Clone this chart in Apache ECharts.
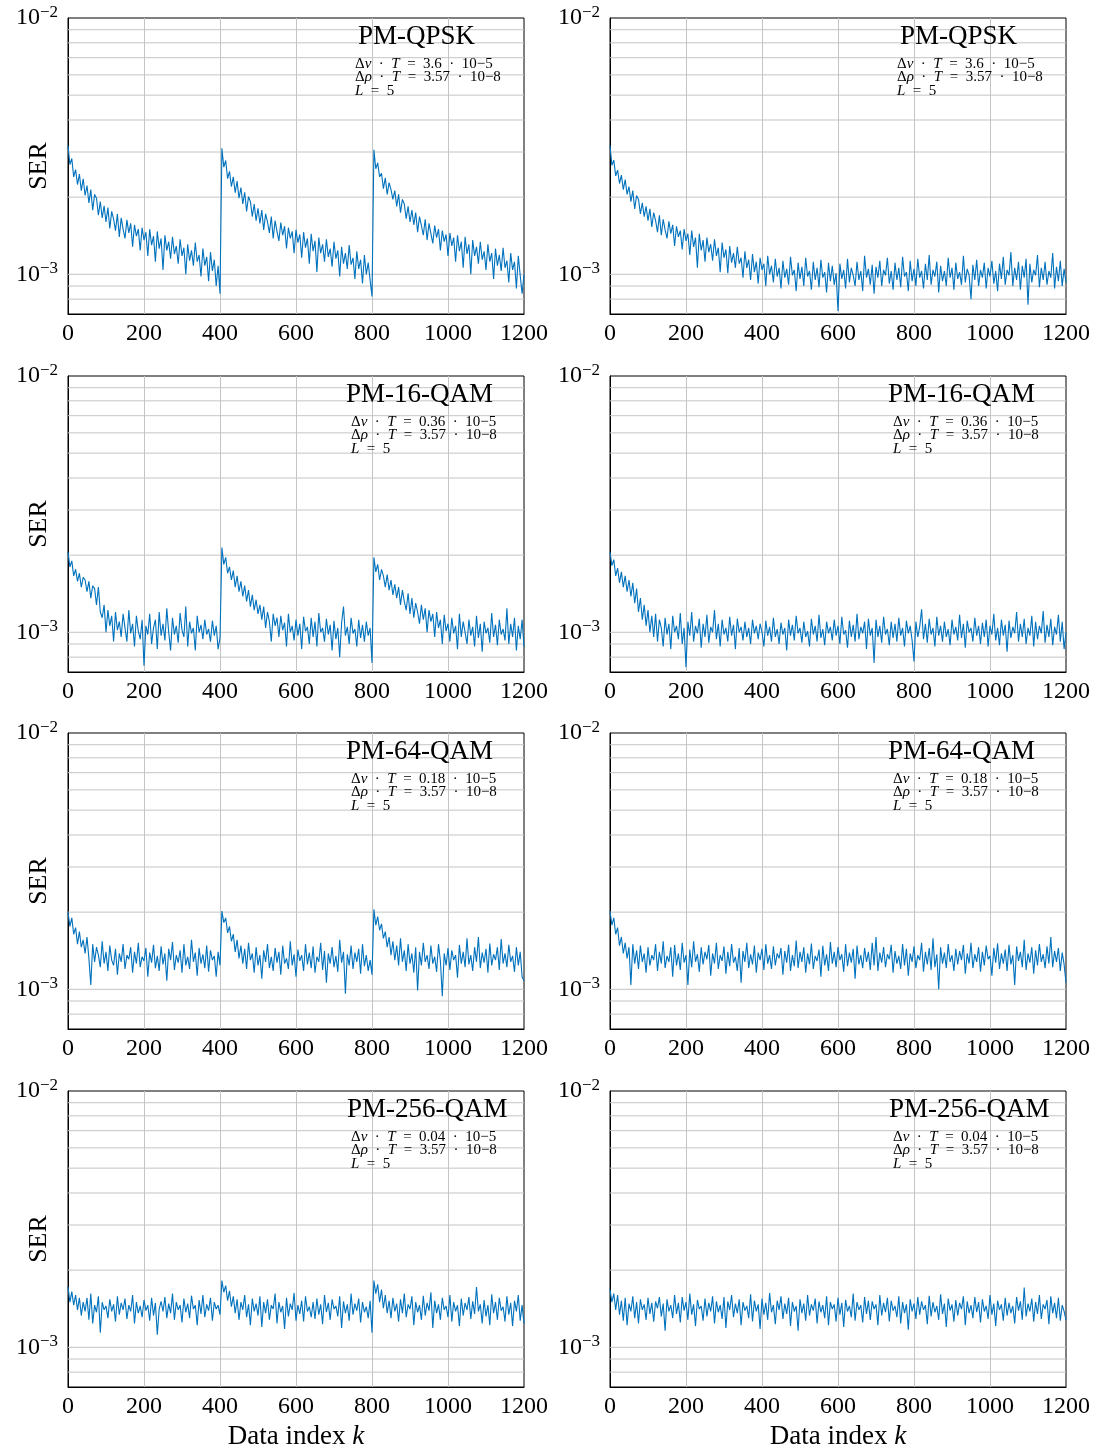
<!DOCTYPE html>
<html>
<head>
<meta charset="utf-8">
<script src="https://cdn.jsdelivr.net/npm/echarts@6/dist/echarts.min.js"></script>
<style>
  html, body { margin: 0; padding: 0; background: #fff; }
  #chart { width: 1099px; height: 1450px; }
</style>
</head>
<body>
<div id="chart"></div>
<script>
// SER per data index, in units of 1e-5 (100 = 1e-3).
// One value every STEP indices, k = 0 .. 1200.
const STEP = 5;

// left column: training restarts at k = 400 and k = 800
const qpskBlock = [
  318, 268, 283, 240, 256, 224, 246, 212, 236, 203,
  222, 190, 214, 178, 205, 198, 170, 192, 166, 185,
  160, 182, 151, 176, 164, 148, 172, 140, 166, 150,
  138, 163, 145, 158, 128, 156, 141, 150, 124, 152,
  136, 146, 118, 150, 130, 141, 112, 147, 126, 138,
  104, 142, 124, 134, 115, 140, 120, 129, 110, 137,
  118, 127, 100, 131, 113, 124, 108, 133, 112, 119,
  98, 126, 108, 117, 94, 122, 103, 114, 90, 108,
  84,
  310, 262, 278, 236, 252, 220, 240, 208, 231, 198,
  218, 188, 209, 176, 201, 192, 168, 188, 162, 181,
  158, 178, 149, 172, 160, 145, 168, 138, 162, 147,
  135, 159, 142, 154, 126, 152, 138, 147, 121, 149,
  133, 143, 116, 146, 127, 138, 110, 144, 123, 135,
  102, 139, 121, 131, 112, 137, 117, 126, 107, 134,
  115, 124, 98, 128, 110, 121, 105, 130, 109, 116,
  96, 123, 105, 114, 92, 119, 100, 111, 95,
  82,
  306, 258, 272, 240, 248, 216, 238, 205, 228, 214,
  196, 212, 184, 205, 174, 196, 188, 165, 184, 160,
  178, 156, 174, 146, 168, 155, 142, 164, 136, 158,
  144, 132, 155, 139, 150, 124, 148, 134, 143, 118,
  145, 129, 139, 112, 142, 123, 134, 106, 140, 120,
  131, 100, 136, 118, 128, 110, 134, 114, 123, 104,
  131, 112, 121, 96, 126, 108, 119, 103, 127, 106,
  113, 93, 121, 104, 112, 88, 118, 99, 84, 100
];
const qam16Block = [
  206, 180, 190, 166, 176, 158, 170, 150, 164, 160,
  144, 158, 136, 152, 148, 128, 150, 120, 114, 128,
  100, 122, 106, 116, 92, 120, 102, 110, 96, 118,
  104, 92, 122, 99, 108, 88, 116, 101, 94, 112,
  74, 106, 98, 118, 90, 104, 112, 86, 120, 97,
  108, 93, 124, 100, 85, 114, 98, 106, 91, 119,
  102, 96, 126, 88, 110, 99, 104, 85, 116, 100,
  107, 94, 112, 98, 103, 92, 111, 97, 106, 86,
  95,
  214, 184, 196, 170, 180, 160, 174, 150, 166, 144,
  158, 138, 152, 132, 146, 126, 140, 122, 134, 118,
  128, 112, 126, 104, 120, 110, 92, 118, 106, 114,
  96, 116, 102, 109, 88, 118, 100, 106, 93, 112,
  97, 108, 86, 115, 101, 105, 90, 114, 96, 110,
  88, 119, 100, 104, 92, 113, 98, 107, 85, 111,
  94, 104, 80, 109, 126, 97, 105, 90, 114, 99,
  103, 88, 112, 95, 107, 92, 110, 97, 104,
  76,
  196, 172, 184, 160, 176, 166, 150, 168, 146, 160,
  140, 154, 136, 150, 128, 146, 132, 122, 142, 118,
  136, 114, 130, 120, 108, 128, 112, 124, 100, 122,
  110, 118, 96, 120, 104, 112, 90, 117, 101, 108,
  92, 114, 99, 106, 86, 118, 96, 110, 100, 90,
  112, 97, 105, 88, 116, 95, 108, 84, 110, 99,
  104, 91, 119, 96, 107, 89, 112, 98, 103, 93,
  124, 90, 108, 96, 114, 85, 106, 94, 112, 88
];
const qam64Block = [
  200, 176, 190, 164, 174, 150, 168, 146, 156, 138,
  160, 132, 104, 150, 128, 146, 136, 122, 154, 126,
  140, 118, 148, 130, 124, 144, 114, 138, 128, 150,
  120, 136, 131, 146, 116, 140, 126, 152, 122, 134,
  129, 145, 112, 139, 127, 149, 121, 135, 118, 147,
  125, 138, 108, 144, 130, 153, 119, 136, 127, 142,
  116, 150, 124, 134, 120, 156, 128, 139, 113, 145,
  126, 137, 121, 148, 117, 142, 130, 135, 112, 140,
  124,
  202, 182, 190, 166, 176, 154, 164, 140, 156, 132,
  148, 126, 144, 120, 152, 130, 138, 116, 146, 124,
  136, 110, 142, 128, 150, 121, 134, 118, 145, 127,
  140, 114, 148, 126, 132, 120, 154, 124, 137, 112,
  143, 129, 136, 118, 150, 125, 139, 121, 147, 116,
  134, 128, 152, 119, 141, 106, 138, 126, 146, 122,
  135, 117, 156, 127, 140, 96, 137, 124, 148, 120,
  139, 128, 144, 115, 150, 123, 136, 118, 130,
  114,
  205, 178, 192, 170, 180, 158, 168, 146, 160, 136,
  154, 130, 148, 124, 158, 128, 142, 118, 150, 126,
  138, 116, 146, 99, 140, 124, 152, 128, 136, 120,
  148, 126, 134, 117, 150, 129, 94, 138, 124, 145,
  119, 142, 130, 136, 111, 149, 126, 140, 122, 158,
  125, 136, 118, 146, 128, 160, 121, 139, 127, 144,
  116, 151, 124, 137, 130, 146, 119, 157, 126, 138,
  122, 149, 128, 135, 117, 146, 124, 140, 112, 108
];
const qam256Block = [
  172, 150, 165, 146, 160, 140, 156, 133, 150, 138,
  156, 128, 162, 124, 146, 137, 158, 114, 150, 140,
  145, 130, 154, 138, 147, 126, 158, 134, 149, 140,
  155, 129, 146, 138, 160, 124, 150, 136, 145, 131,
  153, 139, 146, 127, 156, 133, 149, 112, 141, 151,
  138, 157, 130, 148, 136, 162, 128, 150, 140, 146,
  125, 155, 137, 148, 130, 159, 141, 146, 122, 153,
  135, 160, 131, 147, 139, 156, 127, 150, 141, 146,
  134,
  182, 164, 174, 152, 166, 144, 158, 136, 154, 128,
  150, 140, 160, 131, 147, 122, 155, 138, 148, 133,
  158, 120, 150, 136, 154, 128, 146, 141, 162, 124,
  150, 137, 145, 118, 156, 132, 148, 140, 163, 127,
  146, 135, 152, 126, 158, 138, 144, 131, 150, 129,
  155, 134, 147, 123, 160, 137, 149, 128, 154, 141,
  145, 132, 158, 119, 151, 136, 147, 127, 162, 134,
  148, 139, 155, 125, 150, 137, 144, 130, 152,
  114,
  182, 162, 176, 150, 168, 142, 160, 136, 152, 130,
  156, 138, 148, 126, 154, 136, 162, 131, 147, 141,
  158, 122, 150, 137, 146, 128, 159, 133, 149, 139,
  164, 119, 152, 136, 147, 128, 156, 140, 145, 131,
  160, 126, 150, 138, 146, 121, 155, 133, 149, 140,
  157, 129, 151, 135, 172, 138, 147, 124, 153, 132,
  146, 122, 161, 136, 150, 128, 156, 139, 144, 126,
  158, 134, 149, 121, 152, 138, 160, 127, 146, 124
];

// right column: one continuous run
const qpskCont = [
  318, 266, 279, 242, 255, 226, 244, 214, 234, 205,
  220, 192, 212, 180, 203, 196, 172, 190, 168, 184,
  162, 180, 153, 174, 162, 146, 170, 142, 164, 149,
  138, 161, 144, 156, 129, 154, 140, 148, 125, 150,
  135, 144, 119, 148, 128, 139, 106, 144, 124, 136,
  112, 139, 122, 131, 113, 137, 118, 127, 102, 133,
  116, 125, 101, 129, 111, 121, 106, 128, 110, 116,
  97, 123, 106, 114, 95, 120, 102, 112, 92, 116,
  104, 110, 90, 118, 100, 108, 93, 115, 98, 106,
  88, 113, 97, 105, 91, 117, 99, 104, 86, 111,
  96, 107, 90, 116, 98, 103, 87, 112, 95, 106,
  89, 114, 97, 102, 85, 111, 94, 108, 91, 101,
  72, 110, 96, 104, 88, 115, 93, 106, 99, 90,
  112, 95, 103, 86, 118, 97, 105, 91, 109, 84,
  107, 97, 113, 90, 104, 99, 116, 92, 103, 87,
  111, 95, 106, 89, 117, 98, 102, 86, 113, 94,
  105, 90, 115, 97, 103, 88, 110, 95, 119, 91,
  104, 98, 112, 85, 108, 94, 103, 90, 116, 97,
  106, 87, 111, 96, 102, 91, 118, 93, 105, 99,
  80, 109, 95, 114, 90, 104, 97, 111, 88, 106,
  98, 113, 92, 103, 86, 110, 96, 117, 91, 104,
  99, 122, 90, 106, 95, 112, 87, 108, 97, 115,
  76, 110, 93, 104, 99, 119, 89, 106, 95, 112,
  91, 103, 97, 121, 88, 107, 94, 113, 90, 105,
  93
];
const qam16Cont = [
  206, 182, 192, 166, 178, 156, 172, 150, 166, 144,
  160, 138, 156, 130, 148, 120, 136, 112, 128, 106,
  122, 100, 116, 96, 118, 92, 112, 104, 88, 114,
  98, 108, 86, 116, 100, 106, 94, 119, 90, 104,
  73, 110, 97, 120, 92, 106, 99, 113, 87, 108,
  96, 117, 91, 105, 100, 122, 94, 108, 88, 112,
  98, 104, 92, 115, 97, 107, 86, 113, 100, 105,
  93, 110, 96, 104, 90, 112, 99, 106, 94, 108,
  100, 88, 111, 97, 105, 92, 114, 96, 103, 90,
  109, 98, 104, 85, 112, 97, 107, 93, 116, 99,
  104, 91, 110, 96, 101, 88, 113, 98, 106, 92,
  117, 95, 103, 89, 110, 99, 105, 93, 112, 97,
  106, 90, 115, 98, 102, 87, 111, 96, 107, 92,
  118, 94, 105, 99, 110, 86, 113, 97, 104, 76,
  112, 96, 106, 91, 115, 98, 103, 89, 110, 95,
  108, 92, 114, 97, 104, 88, 111, 99, 106, 93,
  77, 110, 96, 105, 123, 94, 108, 91, 113, 98,
  104, 88, 115, 97, 106, 92, 110, 96, 103, 89,
  112, 98, 105, 93, 117, 95, 108, 87, 111, 100,
  104, 92, 114, 97, 106, 90, 109, 96, 112, 88,
  106, 98, 118, 93, 104, 89, 112, 97, 107, 84,
  111, 95, 105, 99, 120, 92, 108, 96, 113, 90,
  104, 97, 116, 88, 110, 94, 106, 99, 121, 91,
  107, 96, 113, 89, 105, 98, 117, 92, 110, 86,
  100
];
const qam64Cont = [
  202, 178, 190, 164, 174, 148, 160, 138, 152, 132,
  146, 104, 150, 126, 142, 120, 148, 128, 138, 116,
  146, 124, 136, 130, 150, 118, 140, 126, 154, 121,
  135, 128, 146, 112, 149, 124, 138, 119, 152, 127,
  136, 104, 143, 122, 154, 128, 137, 117, 146, 125,
  140, 131, 149, 113, 138, 126, 152, 120, 136, 129,
  147, 115, 140, 123, 150, 127, 134, 118, 145, 106,
  141, 128, 152, 121, 137, 125, 148, 116, 139, 130,
  144, 119, 150, 126, 136, 120, 147, 124, 138, 132,
  145, 114, 141, 127, 149, 118, 136, 123, 155, 121,
  140, 128, 146, 116, 138, 125, 151, 120, 135, 129,
  143, 112, 148, 124, 137, 118, 153, 126, 140, 122,
  146, 130, 137, 117, 150, 123, 139, 127, 144, 110,
  148, 125, 136, 121, 145, 128, 140, 119, 152, 124,
  160, 118, 139, 127, 146, 122, 137, 131, 149, 116,
  141, 126, 135, 120, 150, 124, 144, 113, 138, 128,
  147, 121, 136, 130, 152, 117, 140, 125, 145, 119,
  158, 122, 137, 100, 146, 126, 139, 121, 150, 128,
  136, 118, 144, 125, 141, 130, 149, 115, 138, 126,
  152, 121, 137, 128, 146, 117, 140, 124, 148, 131,
  135, 113, 145, 127, 151, 120, 138, 126, 143, 118,
  149, 125, 136, 104, 147, 129, 140, 122, 156, 119,
  138, 127, 146, 115, 142, 124, 150, 128, 137, 121,
  147, 126, 160, 122, 141, 128, 145, 118, 139, 125,
  106
];
const qam256Cont = [
  168, 150, 162, 140, 160, 134, 152, 127, 156, 122,
  148, 138, 158, 130, 150, 124, 154, 140, 147, 128,
  156, 135, 149, 126, 151, 142, 157, 132, 148, 116,
  154, 138, 146, 130, 160, 135, 149, 125, 157, 139,
  150, 128, 162, 134, 147, 121, 153, 141, 145, 127,
  155, 132, 149, 138, 158, 124, 151, 137, 146, 129,
  157, 119, 151, 140, 160, 131, 148, 136, 154, 122,
  150, 139, 145, 130, 161, 126, 152, 138, 147, 118,
  155, 134, 149, 128, 163, 137, 146, 123, 152, 140,
  158, 129, 148, 135, 156, 121, 150, 138, 145, 116,
  154, 136, 148, 127, 160, 133, 147, 139, 155, 124,
  151, 137, 146, 130, 158, 122, 150, 141, 147, 126,
  156, 134, 149, 120, 153, 138, 145, 131, 162, 127,
  150, 140, 146, 125, 157, 135, 152, 128, 151, 141,
  147, 122, 160, 133, 149, 137, 156, 126, 152, 139,
  145, 131, 158, 124, 150, 136, 147, 117, 154, 138,
  148, 129, 157, 134, 151, 140, 146, 123, 159, 132,
  150, 137, 145, 128, 161, 135, 148, 120, 155, 139,
  147, 126, 153, 133, 149, 141, 158, 122, 151, 136,
  146, 130, 157, 137, 150, 125, 154, 138, 145, 129,
  160, 134, 148, 121, 152, 140, 147, 127, 156, 133,
  149, 136, 145, 124, 157, 139, 151, 128, 171, 132,
  148, 138, 155, 126, 150, 135, 160, 129, 147, 141,
  153, 123, 158, 136, 149, 130, 156, 127, 146, 138,
  128
];

const panelValues = [qpskBlock, qpskCont, qam16Block, qam16Cont,
                     qam64Block, qam64Cont, qam256Block, qam256Cont];
const formatNames = ['PM-QPSK', 'PM-16-QAM', 'PM-64-QAM', 'PM-256-QAM'];
const dnuT = ['3.6', '0.36', '0.18', '0.04'];
const drhoT = '3.57';
const memoryL = 5;

const xRange = [0, 1200];
const yLabelValues = [0.001, 0.01];
const yGridValues = [0.0008, 0.0009, 0.001, 0.002, 0.003, 0.004, 0.005,
                     0.006, 0.007, 0.008, 0.009];

const FONT = '"Liberation Serif", "Times New Roman", serif';
const BLUE = '#0072bd';
const GRAY = '#c4c4c4';
const SP = '\u2002'; // wider gap, like math spacing
const colLeft = [68, 610];
const rowTop = [18, 376, 733, 1091];
const W = 456, H = 296;
const titleDx = [290, 278, 278, 279];
const noteDx = [287, 283, 283, 283];

const chart = echarts.init(document.getElementById('chart'));

const grids = [], xAxes = [], yAxes = [], series = [], titles = [];

// one polyline per grid value, broken by '-' between them
const hGridData = [];
yGridValues.forEach(v => {
  hGridData.push([xRange[0], v], [xRange[1], v], [xRange[1], '-']);
});

panelValues.forEach((vals, idx) => {
  const row = Math.floor(idx / 2), col = idx % 2;
  const left = colLeft[col], top = rowTop[row];

  grids.push({ left: left, top: top, width: W, height: H,
    containLabel: false, outerBoundsMode: 'none',
    show: true, borderColor: '#000', borderWidth: 1, backgroundColor: 'transparent' });

  xAxes.push({
    gridIndex: idx, type: 'value', min: xRange[0], max: xRange[1], interval: 200,
    axisLine: { show: true, lineStyle: { color: '#000', width: 1 } },
    axisTick: { show: false },
    axisLabel: { fontFamily: FONT, fontSize: 24, color: '#000', margin: 8,
                 showMinLabel: true, showMaxLabel: true,
                 formatter: v => String(v) },
    splitLine: { show: true, showMinLine: false, showMaxLine: false,
                 lineStyle: { color: GRAY, width: 1 } },
    name: row === 3 ? 'Data index {i|k}' : '',
    nameLocation: 'middle', nameGap: 36, nameMoveOverlap: false,
    nameTextStyle: { fontFamily: FONT, fontSize: 27, color: '#000',
                     rich: { i: { fontFamily: FONT, fontSize: 27, fontStyle: 'italic', color: '#000' } } }
  });

  yAxes.push({
    gridIndex: idx, type: 'log', logBase: 10, min: 0.0007, max: 0.01,
    axisLine: { show: true, lineStyle: { color: '#000', width: 1 } },
    axisTick: { show: false },
    splitLine: { show: false },
    axisLabel: {
      customValues: yLabelValues, margin: 10,
      fontFamily: FONT, fontSize: 24, color: '#000',
      formatter: v => '10{s|\u2212' + Math.round(-Math.log10(v)) + '}',
      rich: { s: { fontFamily: FONT, fontSize: 17, color: '#000', padding: [0, 0, 11, 0] } }
    },
    name: col === 0 ? 'SER' : '',
    nameLocation: 'middle', nameGap: 16, nameRotate: 90, nameMoveOverlap: false,
    nameTextStyle: { fontFamily: FONT, fontSize: 26, color: '#000' }
  });

  // horizontal grid lines at every decade subdivision
  series.push({
    type: 'line', xAxisIndex: idx, yAxisIndex: idx, z: 1, silent: true,
    showSymbol: false, connectNulls: false, animation: false,
    lineStyle: { color: GRAY, width: 1 }, itemStyle: { color: GRAY },
    emphasis: { disabled: true },
    data: hGridData
  });

  series.push({
    type: 'line', xAxisIndex: idx, yAxisIndex: idx, z: 3,
    showSymbol: false, animation: false, sampling: false,
    lineStyle: { color: BLUE, width: 1.1 }, itemStyle: { color: BLUE },
    data: vals.map((v, i) => [i * STEP, v * 1e-5])
  });

  titles.push({
    text: formatNames[row], left: left + titleDx[row], top: top + 5, padding: 0,
    textStyle: { fontFamily: FONT, fontSize: 27, fontWeight: 'normal', color: '#000', lineHeight: 27 }
  });
  titles.push({
    text: '\u0394{i|\u03bd}' + SP + '\u00b7' + SP + '{i|T}' + SP + '=' + SP + dnuT[row] + SP + '\u00b7' + SP + '10\u22125\n' +
          '\u0394{i|\u03c1}' + SP + '\u00b7' + SP + '{i|T}' + SP + '=' + SP + drhoT + SP + '\u00b7' + SP + '10\u22128\n' +
          '{i|L}' + SP + '=' + SP + memoryL,
    left: left + noteDx[row], top: top + 39, padding: 0,
    textStyle: { fontFamily: FONT, fontSize: 15, fontWeight: 'normal', color: '#000', lineHeight: 13.5,
                 rich: { i: { fontFamily: FONT, fontSize: 15, fontStyle: 'italic', color: '#000', lineHeight: 13.5 } } }
  });
});

chart.setOption({
  animation: false,
  backgroundColor: '#fff',
  title: titles,
  grid: grids,
  xAxis: xAxes,
  yAxis: yAxes,
  series: series
});
</script>
</body>
</html>
